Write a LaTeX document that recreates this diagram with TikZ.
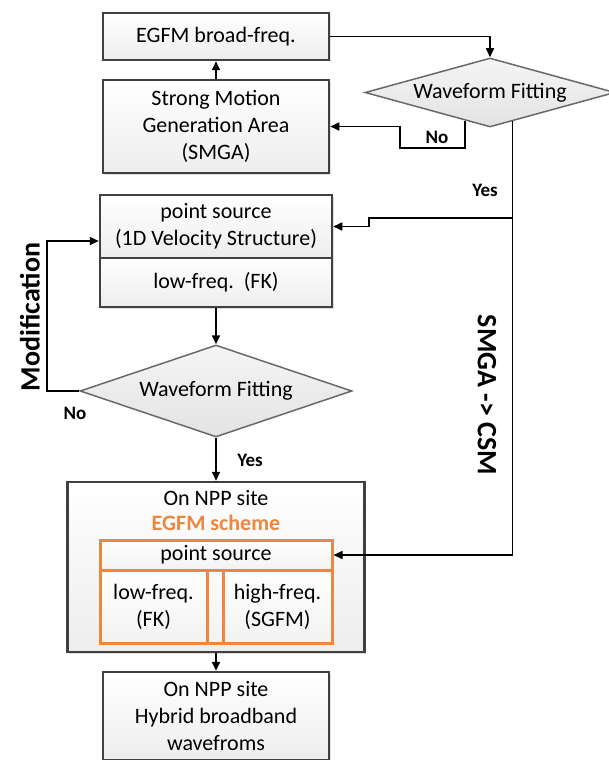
\documentclass[tikz,border=0pt]{standalone}
\usepackage{fontspec}
\setmainfont{Carlito}
\definecolor{boxBorder}{RGB}{64,64,64}
\definecolor{diaBorder}{RGB}{105,105,105}
\definecolor{schemeOrange}{RGB}{237,134,64}
\usetikzlibrary{shapes.geometric,arrows.meta,calc,shadows}

\begin{document}
\begin{tikzpicture}[x=1pt,y=-1pt,
    font=\fontsize{22}{27}\selectfont,
    box/.style={draw=boxBorder,line width=2.5pt,rectangle,top color=white,bottom color=gray!14,
      align=center,inner sep=0pt,drop shadow={shadow xshift=1.5pt,shadow yshift=-1.5pt,opacity=0.25}},
    fitcheck/.style={diamond,draw=diaBorder,line width=1.5pt,top color=gray!8,bottom color=gray!22,inner sep=0pt},
    inbox/.style={draw=schemeOrange,line width=3pt,rectangle,top color=white,bottom color=gray!10,
      align=center,inner sep=0pt},
    conn/.style={line width=1.6pt,-{Triangle[length=9pt,width=8pt]}},
    line/.style={line width=1.6pt},
    tag/.style={font=\fontsize{19}{22}\selectfont\bfseries},
    sidetag/.style={font=\fontsize{28}{32}\selectfont\bfseries}]
        \useasboundingbox (0,0) rectangle (608,760);
        % Top branch: EGFM and SMGA
        \node[box,minimum width=226pt,minimum height=47pt] (egfm) at (216,36.5) {EGFM broad-freq.};
        \node[box,minimum width=226pt,minimum height=93pt] (smga) at (216,126.5)
          {Strong Motion\\Generation Area\\(SMGA)};
        \node[fitcheck,aspect=3.6,minimum width=250pt,minimum height=69pt] (fit1) at (490,92.5)
          {Waveform Fitting};
        % Point source with 1D structure
        \node[box,minimum width=232pt,minimum height=63pt] (ps1) at (216,226.5)
          {point source\\(1D Velocity Structure)};
        \node[box,minimum width=232pt,minimum height=49pt] (lf1) at (216,282.5) {low-freq.~~(FK)};
        \node[fitcheck,aspect=2.95,minimum width=272pt,minimum height=92pt] (fit2) at (216,391)
          {Waveform Fitting};
        % On NPP site, EGFM scheme
        \node[box,minimum width=297pt,minimum height=170pt] (npp) at (216,567) {};
        \node (nppTitle) at (216,498) {On NPP site};
        \node[text=schemeOrange,font=\fontsize{22}{27}\selectfont\bfseries] (schemeTitle) at (216,523)
          {EGFM scheme};
        \node[inbox,minimum width=232pt,minimum height=103pt] (scheme) at (216,591.5) {};
        \node[inbox,fill=white,minimum width=232pt,minimum height=30pt] (ptsrc) at (216,555) {point source};
        \node[inbox,minimum width=107pt,minimum height=73pt] (lowf) at (153.5,606.5) {low-freq.\\(FK)};
        \node[inbox,minimum width=109pt,minimum height=73pt] (highf) at (277.5,606.5) {high-freq.\\(SGFM)};
        % Result
        \node[box,minimum width=226pt,minimum height=88pt] (final) at (216,716)
          {On NPP site\\Hybrid broadband\\wavefroms};
        % Connectors, top part
        \draw[conn] (smga) -- (egfm);
        \draw[conn] (egfm.east) -| (fit1.north);
        \coordinate (noStart) at ($(fit1.south)!0.2!(fit1.west)$);
        \draw[conn] (noStart) |- (400,148) |- (smga.east);
        \node[tag] (noTop) at (437,137) {No};
        \coordinate (yesStart) at ($(fit1.south)!0.18!(fit1.east)$);
        \coordinate (yesJoint) at (yesStart |- 0,218);
        \draw[line] (yesStart) -- (yesJoint);
        \draw[conn] (yesJoint) -- (369,218) |- (ps1.east);
        \draw[conn] (yesJoint) |- (ptsrc.east);
        \node[tag] (yesTop) at (485,190) {Yes};
        \node[sidetag,rotate=-90] (csm) at (487,395) {SMGA -> CSM};
        % Connectors, lower part
        \draw[conn] (lf1) -- (fit2);
        \draw[conn] (fit2.west) -- (47,391) |- ($(ps1.west)+(0,14.5)$);
        \node[tag] (noLow) at (75,413) {No};
        \node[sidetag,rotate=90] (modif) at (30,317) {Modification};
        \draw[conn] (fit2) -- (npp);
        \node[tag] (yesLow) at (250,460) {Yes};
        \draw[conn] (npp) -- (final);
      \end{tikzpicture}
\end{document}
